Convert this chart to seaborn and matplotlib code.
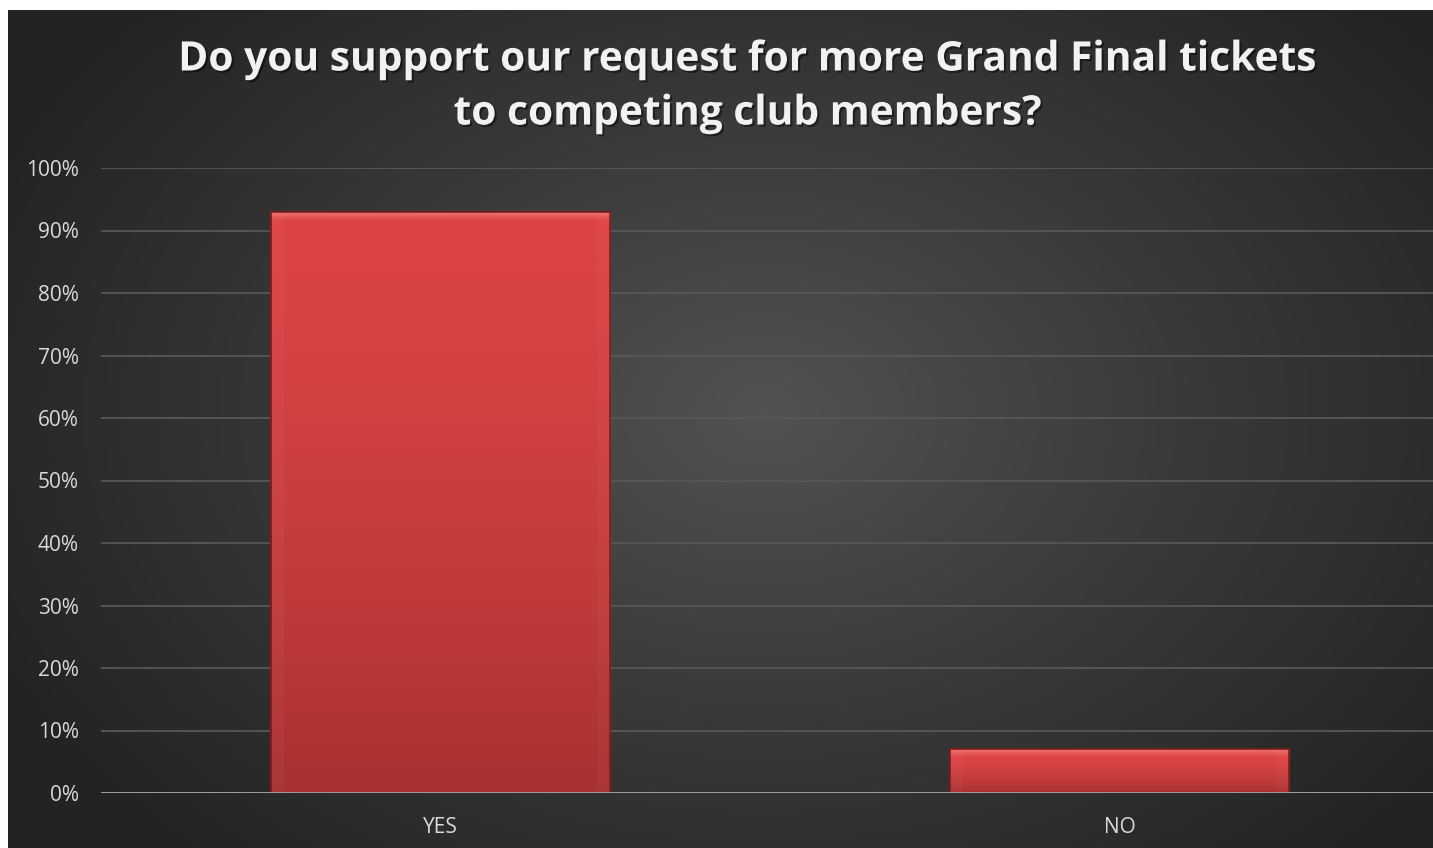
import numpy as np
import pandas as pd
import matplotlib
matplotlib.use("Agg")
import matplotlib.pyplot as plt
import matplotlib.patheffects as pe
from matplotlib.colors import LinearSegmentedColormap
from matplotlib.ticker import PercentFormatter
import seaborn as sns

# Survey results
answers = ["YES", "NO"]
shares = [0.93, 0.07]
title = "Do you support our request for more Grand Final tickets\nto competing club members?"
y_ticks = [0.0, 0.1, 0.2, 0.3, 0.4, 0.5, 0.6, 0.7, 0.8, 0.9, 1.0]

df = pd.DataFrame({"answer": answers, "share": shares})

sns.set_theme(style="dark")
plt.rcParams["font.family"] = ["Open Sans", "DejaVu Sans"]

W, H = 1433, 848
fig = plt.figure(figsize=(W / 100, H / 100), dpi=100)
fig.patch.set_facecolor("white")

# Dark panel with a soft radial light in the middle
bg = fig.add_axes([8 / W, 0, 1 - 8 / W, 1 - 10 / H], zorder=0)
ny, nx = 420, 720
yy, xx = np.mgrid[0:ny, 0:nx]
cx, cy = nx * 0.53, ny * 0.48
r = np.sqrt(((xx - cx) / (nx * 0.60)) ** 2 + ((yy - cy) / (ny * 0.72)) ** 2)
r = np.clip(r, 0, 1)
shade = LinearSegmentedColormap.from_list("panel", ["#525252", "#393939", "#232323"])
bg.imshow(r, cmap=shade, aspect="auto", interpolation="bilinear")
bg.set_axis_off()

# Plot area (the right side runs past the edge of the canvas)
ax = fig.add_axes([101 / W, (H - 793) / H, (1459 - 101) / W, 625 / H], zorder=1)
ax.set_facecolor("none")

sns.barplot(data=df, x="answer", y="share", width=0.5, color="#c83c3c",
            edgecolor="#7a1c1c", linewidth=1.2, ax=ax, zorder=3)

# Bevelled red fill for every bar
fill = LinearSegmentedColormap.from_list(
    "barfill", ["#f07474", "#de4444", "#d24040", "#c03a3a", "#a83131"])
for bar in list(ax.patches):
    x0, y0 = bar.get_x(), bar.get_y()
    w, h = bar.get_width(), bar.get_height()
    top = y0 + h
    # keep the highlight a thin band at the top
    band = min(0.012 / max(h, 1e-6), 0.3)
    g = np.linspace(0, 1, 256)
    vals = np.where(g < band, g / band * 0.25, 0.25 + (g - band) / (1 - band) * 0.75)
    img = np.hstack([vals.reshape(-1, 1)] * 8)
    im = ax.imshow(img, cmap=fill, vmin=0, vmax=1, aspect="auto",
                   extent=[x0, x0 + w, y0, top], origin="upper",
                   interpolation="bilinear", zorder=3.5)
    im.set_clip_path(bar)
    # faint side bevels
    for sx in (x0, x0 + w - w * 0.04):
        ax.fill_between([sx, sx + w * 0.04], y0, top, color="#ffffff",
                        alpha=0.03, linewidth=0, zorder=3.6)
    ax.add_patch(plt.Rectangle((x0, y0), w, h, fill=False,
                               edgecolor="#7a1c1c", linewidth=1.2, zorder=3.7))

ax.set_xlim(-0.5, 1.5)
ax.set_ylim(0, 1.0)
ax.set_yticks(y_ticks)
ax.yaxis.set_major_formatter(PercentFormatter(xmax=1, decimals=0))
ax.grid(axis="y", color="#575757", linewidth=1.3, zorder=0)
ax.grid(axis="x", visible=False)
ax.axhline(0, color="#a6a6a6", linewidth=2, zorder=4)
ax.set_xlabel("")
ax.set_ylabel("")
for s in ax.spines.values():
    s.set_visible(False)
ax.tick_params(axis="both", length=0, colors="#d9d9d9", labelsize=15)
ax.tick_params(axis="y", pad=16)
ax.tick_params(axis="x", pad=17)

fig.text(748 / W, 1 - 87 / H, title, ha="center", va="center",
         fontsize=29.3, fontweight="bold", color="#f2f2f2", linespacing=1.42,
         path_effects=[pe.withSimplePatchShadow(offset=(1.5, -1.5),
                                                shadow_rgbFace="black", alpha=0.45)])

fig.savefig("out.png", dpi=100, facecolor=fig.get_facecolor())
